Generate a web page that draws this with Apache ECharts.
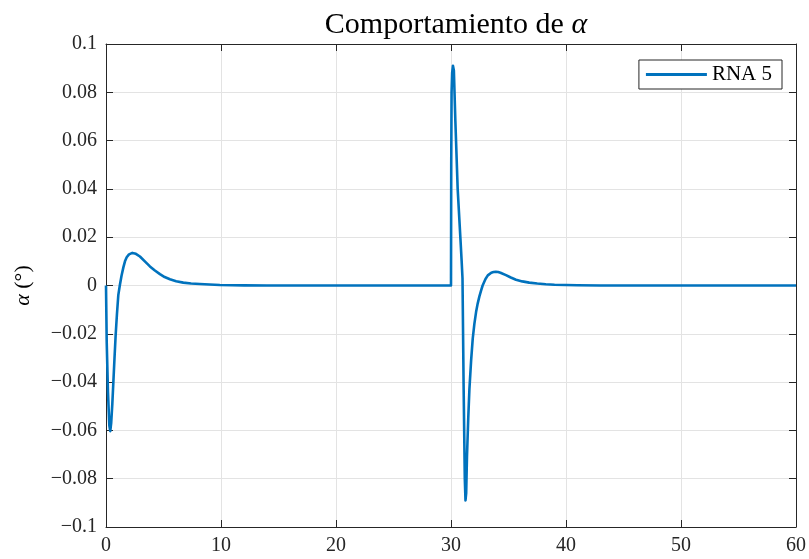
<!DOCTYPE html>
<html>
<head>
<meta charset="utf-8">
<script src="https://cdn.jsdelivr.net/npm/echarts@6/dist/echarts.min.js"></script>
<style>
  html, body { margin: 0; padding: 0; background: #fff; }
  #chart { width: 809px; height: 559px; }
</style>
</head>
<body>
<div id="chart"></div>
<script>
// Time samples (s) and angle of attack alpha (deg) for the RNA 5 controller
const tValues = [
  0, 0.06, 0.17, 0.29, 0.37, 0.45, 0.55, 0.64, 0.74, 0.84, 0.95, 1.07, 1.2, 1.35, 1.51,
  1.65, 1.8, 2.0, 2.15, 2.29, 2.45, 2.6, 2.95, 3.4, 3.82, 4.25, 4.69, 5.1, 5.56, 6.1, 6.72, 7.4,
  8.16, 9.0, 9.9, 11, 12, 14, 20, 25, 30.0,
  30.02, 30.05, 30.1, 30.17, 30.25, 30.38, 30.58, 30.82, 30.93, 31.0, 31.1, 31.2, 31.26,
  31.32, 31.39, 31.5, 31.6, 31.75, 31.89, 32.03, 32.18, 32.32, 32.47, 32.62, 32.75,
  33.0, 33.2, 33.5, 33.7, 33.9, 34.1, 34.3, 34.78, 35.2, 35.65, 36.2, 36.8, 37.5, 38.25, 39.0,
  40, 41, 43, 45, 50, 55, 60
];
const alphaValues = [
  0, -0.023, -0.044, -0.058, -0.0603, -0.057, -0.049, -0.040, -0.030, -0.0205, -0.012, -0.004, 0.0, 0.004, 0.0075,
  0.0100, 0.0117, 0.0129, 0.0133, 0.0135, 0.0134, 0.0131, 0.0120, 0.0099, 0.0079, 0.0062, 0.0047, 0.0035, 0.0026, 0.0018, 0.0012, 0.0008,
  0.0006, 0.0004, 0.0002, 0.0001, 0.00005, 0, 0, 0, 0,
  0.05, 0.080, 0.088, 0.091, 0.089, 0.068, 0.040, 0.0194, 0.0097, 0.003, -0.043, -0.080, -0.089,
  -0.086, -0.0707, -0.055, -0.043, -0.031, -0.022, -0.016, -0.011, -0.0075, -0.0045, -0.002, 0.0,
  0.0027, 0.0042, 0.0053, 0.0056, 0.0057, 0.0056, 0.0053, 0.0043, 0.0033, 0.0024, 0.0017, 0.0012, 0.0008, 0.0005, 0.0003,
  0.0002, 0.0001, 0.00003, 0, 0, 0, 0
];
const seriesName = 'RNA 5';
const xTicks = [0, 10, 20, 30, 40, 50, 60];
const yTicks = [-0.1, -0.08, -0.06, -0.04, -0.02, 0, 0.02, 0.04, 0.06, 0.08, 0.1];

const serif = '"Liberation Serif", "DejaVu Serif", serif';
const axisColor = '#262626';
const gridColor = '#e3e3e3';

function fmtTick(v) {
  const r = Math.round(v * 100) / 100;
  if (r === 0) return '0';
  return String(r).replace('-', '\u2212');
}

const points = tValues.map((t, i) => [t, alphaValues[i]]);

const baseX = {
  type: 'value',
  min: xTicks[0],
  max: xTicks[xTicks.length - 1],
  interval: 10,
  axisLine: { show: true, onZero: false, lineStyle: { color: axisColor, width: 1 } },
  axisTick: { show: true, inside: true, length: 7, lineStyle: { color: axisColor } },
  splitLine: { show: false }
};
const baseY = {
  type: 'value',
  min: yTicks[0],
  max: yTicks[yTicks.length - 1],
  interval: 0.02,
  axisLine: { show: true, onZero: false, lineStyle: { color: axisColor, width: 1 } },
  axisTick: { show: true, inside: true, length: 7, lineStyle: { color: axisColor } },
  splitLine: { show: false }
};

const chart = echarts.init(document.getElementById('chart'), null, { renderer: 'canvas' });
chart.setOption({
  animation: false,
  backgroundColor: '#ffffff',
  title: {
    text: 'Comportamiento de {a|α}',
    left: 451,
    top: 5,
    textAlign: 'center',
    textStyle: {
      fontFamily: serif,
      fontSize: 30,
      fontWeight: 'normal',
      color: '#000',
      rich: {
        a: { fontFamily: serif, fontStyle: 'italic', fontSize: 30, color: '#000' }
      }
    }
  },
  legend: {
    data: [seriesName],
    right: 27,
    top: 60,
    orient: 'vertical',
    icon: 'rect',
    itemWidth: 61,
    itemHeight: 3,
    padding: [4, 10, 4, 7],
    itemGap: 0,
    backgroundColor: '#ffffff',
    borderColor: axisColor,
    borderWidth: 1,
    borderRadius: 0,
    textStyle: { fontFamily: serif, fontSize: 21, color: '#000' }
  },
  grid: { left: 106, right: 12, top: 44, bottom: 32, containLabel: false },
  xAxis: [
    Object.assign({}, baseX, {
      position: 'bottom',
      axisLabel: { show: true, margin: 9, fontFamily: serif, fontSize: 20, color: '#262626' },
      splitLine: { show: true, lineStyle: { color: gridColor, width: 1 } }
    }),
    Object.assign({}, baseX, { position: 'top', axisLabel: { show: false } })
  ],
  yAxis: [
    Object.assign({}, baseY, {
      position: 'left',
      name: '{a|α} (°)',
      nameLocation: 'middle',
      nameRotate: 90,
      nameGap: 72,
      nameTextStyle: {
        fontFamily: serif,
        fontSize: 22,
        color: '#000',
        rich: { a: { fontFamily: serif, fontStyle: 'italic', fontSize: 22, color: '#000' } }
      },
      axisLabel: {
        show: true, margin: 9, fontFamily: serif, fontSize: 20, color: '#262626',
        formatter: fmtTick
      },
      splitLine: { show: true, lineStyle: { color: gridColor, width: 1 } }
    }),
    Object.assign({}, baseY, { position: 'right', axisLabel: { show: false } })
  ],
  series: [
    {
      name: seriesName,
      type: 'line',
      xAxisIndex: 0,
      yAxisIndex: 0,
      data: points,
      showSymbol: false,
      symbol: 'none',
      smooth: false,
      color: '#0072BD',
      lineStyle: { color: '#0072BD', width: 2.6, join: 'round' },
      z: 3
    }
  ]
});
</script>
</body>
</html>
